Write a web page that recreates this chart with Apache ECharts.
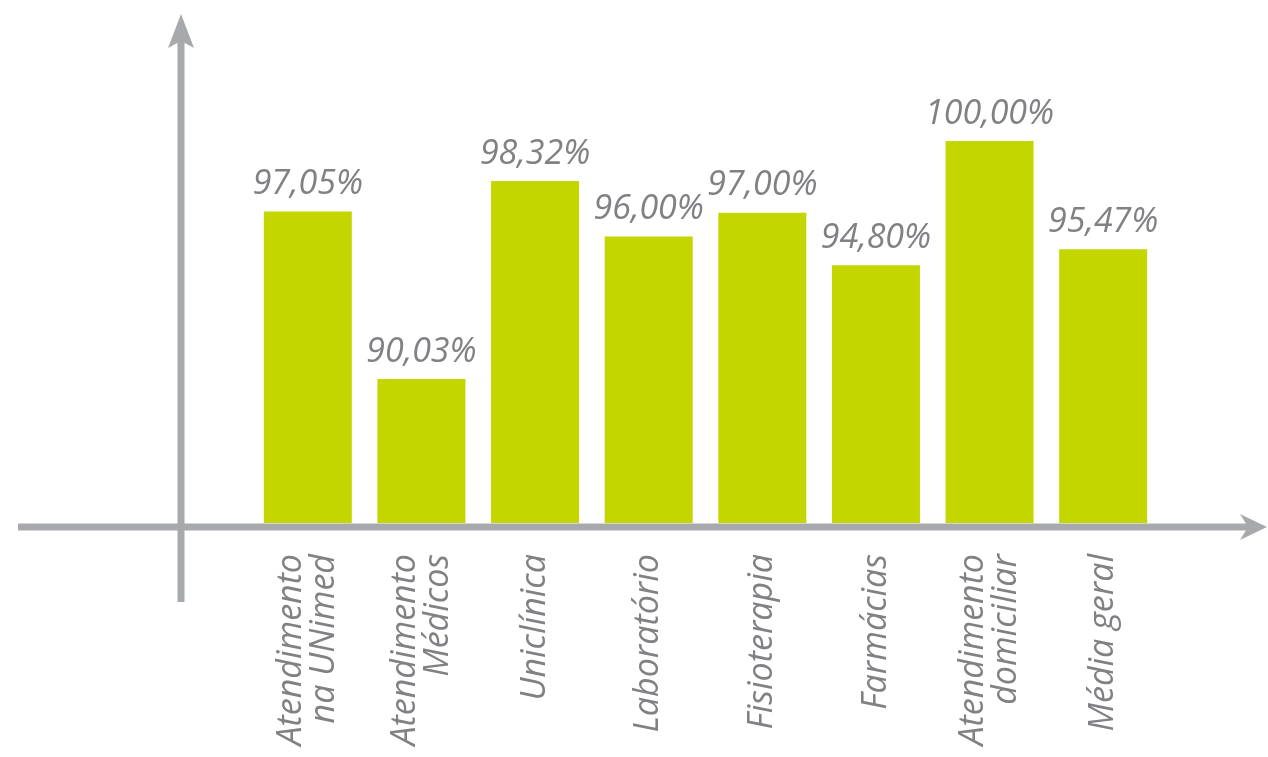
<!DOCTYPE html>
<html>
<head>
<meta charset="utf-8">
<script src="https://cdn.jsdelivr.net/npm/echarts@6/dist/echarts.min.js"></script>
<style>
  html, body { margin: 0; padding: 0; background: #fff; }
  #chart { width: 1268px; height: 757px; }
</style>
</head>
<body>
<div id="chart"></div>
<script>
// dados
const categorias = [
  'Atendimento\nna UNimed',
  'Atendimento\nMédicos',
  'Uniclínica',
  'Laboratório',
  'Fisioterapia',
  'Farmácias',
  'Atendimento\ndomiciliar',
  'Média geral'
];
const satisfacao = [97.05, 90.03, 98.32, 96.00, 97.00, 94.80, 100.00, 95.47];

const verde = '#c4d600';
const cinza = '#808184';
const eixo = '#a8a9ad';

const myChart = echarts.init(document.getElementById('chart'));

const option = {
  animation: false,
  grid: {
    left: 251,
    right: 108,
    top: 141,
    bottom: 234,
  },
  xAxis: {
    type: 'category',
    data: categorias,
    axisLine: { show: false },
    axisTick: { show: false },
    axisLabel: {
      interval: 0,
      rotate: 90,
      margin: 31,
      color: cinza,
      fontFamily: 'Open Sans',
      fontStyle: 'italic',
      fontSize: 34,
      lineHeight: 33,
    },
  },
  yAxis: {
    type: 'value',
    min: 84,
    max: 100,
    show: false,
    splitLine: { show: false },
  },
  series: [{
    type: 'bar',
    data: satisfacao,
    barWidth: 88,
    itemStyle: { color: verde },
    label: {
      show: true,
      position: 'top',
      distance: 10,
      color: cinza,
      fontFamily: 'Open Sans',
      fontStyle: 'italic',
      fontSize: 34,
      formatter(p) {
        return p.value.toFixed(2).replace('.', ',') + '%';
      },
    },
  }],
  // eixos com setas (desenhados à parte)
  graphic: [
    { type: 'line', shape: { x1: 181, y1: 40, x2: 181, y2: 602 }, style: { stroke: eixo, lineWidth: 7 } },
    { type: 'polygon', shape: { points: [[181, 14], [194, 48], [181, 41], [168, 48]] }, style: { fill: eixo } },
    { type: 'line', shape: { x1: 18, y1: 527, x2: 1250, y2: 527 }, style: { stroke: eixo, lineWidth: 7 } },
    { type: 'polygon', shape: { points: [[1267, 527], [1240, 514], [1248, 527], [1240, 540]] }, style: { fill: eixo } },
  ],
};

myChart.setOption(option);
</script>
</body>
</html>
